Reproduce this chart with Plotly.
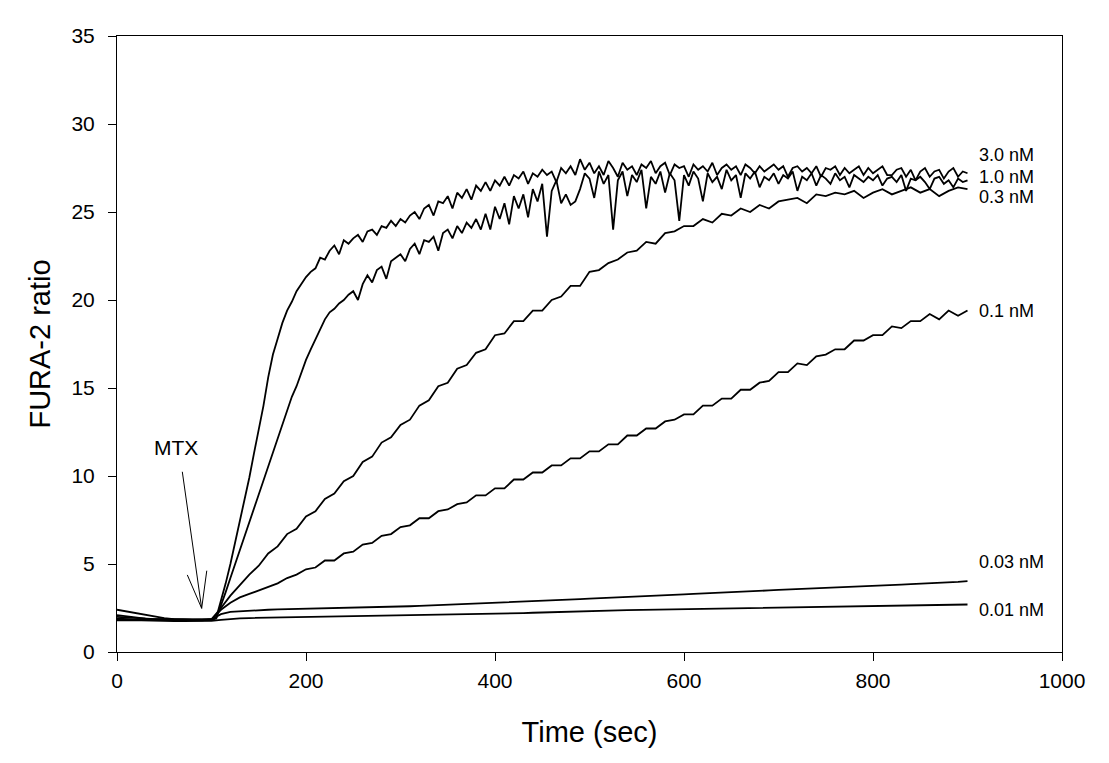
'''
    FURA-2 ratio versus time after MTX addition, one trace per concentration.
'''

import plotly.graph_objects as go

# sampling grids (sec)
time_fine = list(range(0, 905, 5))
time_coarse = list(range(0, 910, 10))

conc_labels = ['3.0 nM', '1.0 nM', '0.3 nM', '0.1 nM', '0.03 nM', '0.01 nM']
label_y = [28.25, 27.0, 25.85, 19.4, 5.1, 2.4]

# 3.0 nM, every 5 sec
ratio_3_0 = [
    2.10, 2.06, 2.02, 1.98, 1.95, 1.92, 1.90, 1.88, 1.87, 1.86,
    1.85, 1.85, 1.84, 1.84, 1.83, 1.84, 1.83, 1.84, 1.84, 1.85,
    1.86, 1.95, 2.9, 3.9, 5.0, 6.2, 7.4, 8.6, 9.9, 11.3,
    12.6, 14.0, 15.6, 16.9, 17.8, 18.7, 19.4, 19.9, 20.5, 20.9,
    21.3, 21.6, 21.8, 22.4, 22.3, 22.8, 23.1, 22.6, 23.4, 23.2,
    23.5, 23.7, 23.3, 23.9, 24.0, 23.7, 24.2, 24.1, 24.5, 24.2,
    24.6, 24.4, 24.8, 25.0, 24.6, 25.2, 25.4, 24.8, 25.6, 25.5,
    25.9, 25.2, 26.1, 25.8, 26.3, 25.7, 26.5, 26.2, 26.7, 26.2,
    26.8, 26.5, 27.0, 26.5, 27.1, 26.9, 27.3, 26.6, 27.2, 27.0,
    27.4, 27.1, 27.3, 26.7, 27.5, 27.2, 27.6, 27.1, 28.0, 27.4,
    27.8, 27.2, 27.6, 27.1, 27.9, 27.5, 27.0, 27.8, 27.4, 27.6,
    27.1, 27.7, 27.5, 27.9, 27.2, 27.6, 27.8, 27.1, 27.7, 27.5,
    27.6, 27.0, 27.7, 27.4, 27.6, 27.3, 27.8, 27.1, 27.5, 27.7,
    27.4, 27.6, 27.1, 27.7, 27.5, 27.2, 27.6, 27.3, 27.5, 27.7,
    27.4, 27.6, 27.0, 27.5, 27.6, 27.3, 27.5, 27.2, 27.6, 27.0,
    27.5, 27.4, 27.6, 27.1, 27.5, 27.2, 27.4, 27.6, 27.1, 27.5,
    27.2, 27.4, 27.6, 27.1, 27.1, 27.4, 27.5, 27.0, 27.4, 26.8,
    27.3, 27.5, 27.0, 27.3, 27.4, 26.9, 27.3, 27.5, 27.0, 27.3,
    27.2,
]

# 1.0 nM, every 5 sec
ratio_1_0 = [
    1.90, 1.88, 1.86, 1.85, 1.84, 1.83, 1.82, 1.81, 1.81, 1.80,
    1.80, 1.80, 1.79, 1.80, 1.79, 1.80, 1.80, 1.79, 1.80, 1.81,
    1.82, 1.90, 2.6, 3.4, 4.2, 5.0, 5.8, 6.6, 7.4, 8.2,
    9.0, 9.8, 10.6, 11.4, 12.2, 13.0, 13.8, 14.5, 15.1, 15.9,
    16.6, 17.2, 17.8, 18.4, 18.9, 19.3, 19.5, 19.8, 20.0, 20.3,
    20.5, 20.0, 20.9, 21.4, 21.0, 21.7, 21.9, 21.2, 22.2, 22.4,
    22.6, 22.2, 22.9, 23.2, 22.6, 23.4, 23.3, 23.6, 22.8, 23.8,
    24.0, 23.5, 24.2, 23.8, 24.4, 24.1, 24.6, 24.0, 24.9, 24.0,
    25.3, 24.6, 25.5, 24.3, 25.9, 25.2, 26.0, 24.7, 26.3, 25.6,
    26.6, 23.6, 26.2, 26.8, 25.5, 26.0, 25.4, 25.6, 26.3, 27.2,
    26.9, 25.8, 27.3, 26.6, 27.1, 24.0, 26.8, 27.3, 25.9, 27.1,
    26.7, 27.4, 25.2, 27.0, 26.6, 27.3, 26.1, 27.2, 26.8, 24.5,
    27.1, 26.5, 27.3, 26.9, 25.6, 27.2, 26.7, 27.0, 26.3, 27.4,
    26.8, 27.1, 25.8, 27.2, 26.9, 27.3, 26.4, 27.0, 26.8, 27.2,
    26.6, 27.1, 26.9, 27.3, 26.2, 27.0, 26.8, 27.2, 26.5, 27.1,
    26.9, 26.6, 27.2, 26.8, 27.0, 26.4, 27.1, 26.9, 26.7, 27.0,
    26.8, 27.1, 26.5, 26.9, 27.0, 26.7, 27.1, 26.2, 26.9, 26.8,
    27.0, 26.7, 26.3, 26.9, 27.0, 26.6, 26.8, 26.4, 26.9, 26.7,
    26.8,
]

# 0.3 nM, every 10 sec
ratio_0_3 = [
    2.00, 1.96, 1.92, 1.89, 1.87, 1.86, 1.85, 1.84, 1.84, 1.84,
    1.85, 2.5, 3.2, 3.8, 4.4, 4.9, 5.6, 6.0, 6.7, 7.0,
    7.7, 8.0, 8.7, 9.0, 9.7, 10.0, 10.8, 11.1, 11.9, 12.2,
    12.9, 13.2, 14.0, 14.3, 15.1, 15.3, 16.1, 16.3, 17.0, 17.2,
    18.0, 18.1, 18.8, 18.8, 19.4, 19.4, 20.0, 20.2, 20.8, 20.8,
    21.6, 21.7, 22.1, 22.3, 22.7, 22.8, 23.3, 23.2, 23.8, 23.9,
    24.2, 24.2, 24.6, 24.4, 24.9, 24.8, 25.2, 25.0, 25.4, 25.2,
    25.6, 25.7, 25.8, 25.5, 26.0, 25.9, 26.1, 26.0, 26.2, 25.8,
    26.1, 26.3, 26.0, 26.2, 26.4, 26.1, 26.3, 25.9, 26.2, 26.4,
    26.3,
]

# 0.1 nM, every 10 sec
ratio_0_1 = [
    1.80, 1.80, 1.79, 1.79, 1.79, 1.78, 1.78, 1.79, 1.79, 1.80,
    1.85, 2.4, 2.8, 3.1, 3.3, 3.5, 3.7, 3.9, 4.2, 4.4,
    4.7, 4.8, 5.2, 5.2, 5.6, 5.7, 6.1, 6.2, 6.6, 6.7,
    7.1, 7.2, 7.6, 7.6, 8.0, 8.1, 8.4, 8.5, 8.9, 8.9,
    9.3, 9.3, 9.8, 9.8, 10.2, 10.2, 10.6, 10.6, 11.0, 11.0,
    11.4, 11.4, 11.8, 11.8, 12.3, 12.3, 12.7, 12.7, 13.1, 13.2,
    13.5, 13.5, 14.0, 14.0, 14.4, 14.4, 14.9, 14.9, 15.3, 15.4,
    15.9, 15.9, 16.4, 16.3, 16.8, 16.9, 17.2, 17.2, 17.7, 17.7,
    18.0, 18.0, 18.5, 18.4, 18.8, 18.8, 19.2, 18.9, 19.4, 19.1,
    19.4,
]

# 0.03 nM, every 10 sec
ratio_0_03 = [
    2.40, 2.30, 2.20, 2.10, 2.00, 1.92, 1.86, 1.84, 1.83, 1.83,
    1.85, 2.15, 2.28, 2.32, 2.36, 2.38, 2.40, 2.42, 2.43, 2.44,
    2.45, 2.46, 2.47, 2.48, 2.49, 2.50, 2.51, 2.52, 2.54, 2.56,
    2.58, 2.60, 2.62, 2.64, 2.66, 2.68, 2.70, 2.72, 2.74, 2.77,
    2.79, 2.81, 2.84, 2.86, 2.88, 2.91, 2.93, 2.96, 2.98, 3.00,
    3.03, 3.05, 3.07, 3.09, 3.12, 3.15, 3.17, 3.19, 3.22, 3.24,
    3.27, 3.30, 3.32, 3.35, 3.37, 3.40, 3.42, 3.45, 3.47, 3.50,
    3.53, 3.55, 3.58, 3.60, 3.62, 3.65, 3.67, 3.70, 3.72, 3.74,
    3.77, 3.79, 3.81, 3.83, 3.86, 3.88, 3.90, 3.93, 3.96, 3.99,
    4.03,
]

# 0.01 nM, every 10 sec
ratio_0_01 = [
    1.85, 1.83, 1.81, 1.79, 1.78, 1.77, 1.76, 1.76, 1.76, 1.76,
    1.77, 1.82, 1.88, 1.91, 1.93, 1.94, 1.95, 1.96, 1.97, 1.98,
    1.98, 1.99, 1.99, 2.00, 2.00, 2.01, 2.01, 2.02, 2.03, 2.04,
    2.05, 2.06, 2.07, 2.08, 2.09, 2.10, 2.11, 2.12, 2.13, 2.14,
    2.15, 2.17, 2.19, 2.21, 2.23, 2.25, 2.27, 2.29, 2.31, 2.33,
    2.34, 2.35, 2.36, 2.37, 2.38, 2.39, 2.40, 2.41, 2.42, 2.43,
    2.44, 2.45, 2.45, 2.46, 2.46, 2.47, 2.48, 2.48, 2.49, 2.50,
    2.51, 2.52, 2.53, 2.54, 2.55, 2.56, 2.57, 2.58, 2.59, 2.60,
    2.61, 2.62, 2.63, 2.64, 2.65, 2.66, 2.67, 2.68, 2.69, 2.70,
    2.70,
]

FONT = 'Arial, Liberation Sans, sans-serif'

series = [
    (time_fine, ratio_3_0),
    (time_fine, ratio_1_0),
    (time_coarse, ratio_0_3),
    (time_coarse, ratio_0_1),
    (time_coarse, ratio_0_03),
    (time_coarse, ratio_0_01),
]

fig = go.Figure()
for name, (t, y) in zip(conc_labels, series):
    assert len(t) == len(y), (name, len(t), len(y))
    fig.add_trace(go.Scatter(
        x=t, y=y, mode='lines', name=name,
        line=dict(color='black', width=1.8),
        hoverinfo='skip',
    ))

# concentration labels at the right end of each trace
for name, ly in zip(conc_labels, label_y):
    fig.add_annotation(x=911, y=ly, text=name, showarrow=False,
                       xanchor='left', yanchor='middle', borderpad=0,
                       font=dict(family=FONT, size=18, color='black'))

# MTX marker with an open arrow head
fig.add_annotation(x=62.4, y=11.6, text='MTX', showarrow=False,
                   font=dict(family=FONT, size=21, color='black'))
arrow_lines = [
    (69.1, 10.24, 89.6, 2.48),
    (74.4, 4.38, 89.6, 2.48),
    (95.0, 4.62, 89.6, 2.48),
]
for x0, y0, x1, y1 in arrow_lines:
    fig.add_shape(type='line', x0=x0, y0=y0, x1=x1, y1=y1,
                  line=dict(color='black', width=1))

axis_style = dict(
    showline=True, mirror=True, linecolor='black', linewidth=1,
    ticks='outside', ticklen=8, tickcolor='black', tickwidth=1,
    showgrid=False, zeroline=False,
    tickfont=dict(family=FONT, size=21, color='black'),
)

# the page adds an 8 px body margin, so margins are shifted by that much
fig.update_layout(
    width=1109, height=763,
    margin=dict(l=109, r=55, t=28, b=119),
    paper_bgcolor='white', plot_bgcolor='white',
    showlegend=False,
    xaxis=dict(range=[0, 1000], tickvals=[0, 200, 400, 600, 800, 1000],
               ticklabelstandoff=2,
               title=dict(text='Time (sec)', standoff=30,
                          font=dict(family=FONT, size=29, color='black')),
               **axis_style),
    yaxis=dict(range=[0, 35], tickvals=[0, 5, 10, 15, 20, 25, 30, 35],
               ticklabelstandoff=9,
               title=dict(text='FURA-2 ratio', standoff=12,
                          font=dict(family=FONT, size=29, color='black')),
               **axis_style),
)

fig.write_html('out.html')
